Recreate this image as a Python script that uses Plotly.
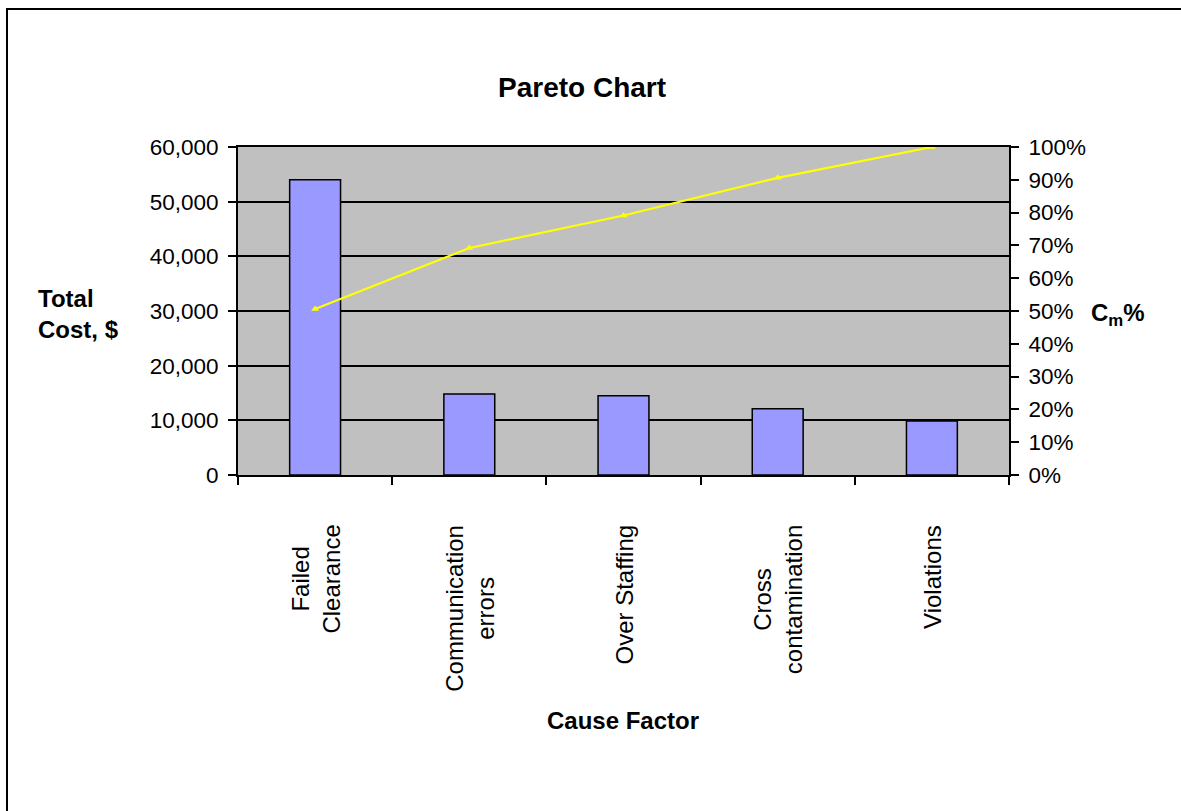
import plotly.graph_objects as go

categories = ["Failed<br>Clearance", "Communication<br>errors", "Over Staffing",
              "Cross<br>contamination", "Violations"]
total_cost = [54000, 14800, 14500, 12100, 9900]
cumulative_pct = [0.506, 0.692, 0.791, 0.906, 1.0]
left_ticks = [0, 10000, 20000, 30000, 40000, 50000, 60000]
right_ticks = [i / 10 for i in range(11)]

FONT = "Liberation Sans, Arial, sans-serif"

W, H = 1181, 811
L, R, T, B = 238, 1009, 147, 475
pw, ph = R - L, B - T


def px(x):
    return (x - L) / pw


def py(y):
    return (B - y) / ph


fig = go.Figure()
fig.add_trace(go.Bar(
    x=categories, y=total_cost, width=0.33,
    marker=dict(color="#9999FF", line=dict(color="black", width=1.5)),
    showlegend=False, yaxis="y",
))
fig.add_trace(go.Scatter(
    x=categories, y=cumulative_pct, mode="lines+markers",
    line=dict(color="#FFFF00", width=2.2),
    marker=dict(symbol="triangle-up", size=7, color="#FFFF00"),
    showlegend=False, yaxis="y2",
))

fig.update_layout(
    width=W, height=H,
    margin=dict(l=L, r=W - R, t=T, b=H - B, pad=0),
    paper_bgcolor="white", plot_bgcolor="#C0C0C0",
    font=dict(family=FONT, size=22, color="black"),
    xaxis=dict(
        type="category", tickson="boundaries", showticklabels=False,
        ticks="outside", ticklen=8, tickwidth=1.5, tickcolor="black",
        showline=True, linecolor="black", linewidth=2, mirror=True,
        showgrid=False,
    ),
    yaxis=dict(
        range=[0, 60000], tickvals=left_ticks, tickformat=",",
        ticks="outside", ticklen=8, tickwidth=1.5, tickcolor="black",
        showline=True, linecolor="black", linewidth=2,
        showgrid=True, gridcolor="black", gridwidth=1.5, zeroline=False,
        tickfont=dict(family=FONT, size=22.5), ticklabelstandoff=5,
    ),
    yaxis2=dict(
        range=[0, 1], tickvals=right_ticks, tickformat=".0%",
        overlaying="y", side="right",
        ticks="outside", ticklen=8, tickwidth=1.5, tickcolor="black",
        showline=True, linecolor="black", linewidth=2,
        showgrid=False, zeroline=False,
        tickfont=dict(family=FONT, size=22.5), ticklabelstandoff=5,
    ),
    bargap=0.67,
)

# category labels (centered lines, rotated), placed on the category axis scale
for cat in categories:
    fig.add_annotation(text=cat, xref="x", yref="paper", x=cat, y=py(523),
                       xanchor="center", yanchor="top", textangle=-90,
                       align="center", showarrow=False,
                       font=dict(family=FONT, size=24))

fig.add_shape(type="rect", xref="paper", yref="paper",
              x0=px(7), x1=px(1200), y0=py(840), y1=py(9),
              line=dict(color="black", width=2), layer="above")

fig.add_annotation(text="<b>Pareto Chart</b>", xref="paper", yref="paper",
                   x=px(582), y=py(87), xanchor="center", yanchor="middle",
                   showarrow=False, font=dict(family=FONT, size=28))
fig.add_annotation(text="<b>Total<br>Cost, $</b>", xref="paper", yref="paper",
                   x=px(36), y=py(314), xanchor="left", yanchor="middle",
                   align="left", showarrow=False,
                   font=dict(family=FONT, size=24))
fig.add_annotation(text="<b>C<sub>m</sub>%</b>", xref="paper", yref="paper",
                   x=px(1089), y=py(314), xanchor="left", yanchor="middle",
                   showarrow=False, font=dict(family=FONT, size=24))
fig.add_annotation(text="<b>Cause Factor</b>", xref="paper", yref="paper",
                   x=px(623), y=py(720), xanchor="center", yanchor="middle",
                   showarrow=False, font=dict(family=FONT, size=24))

fig.write_html("out.html", config={"displayModeBar": False},
               post_script="document.body.style.margin='0';document.body.style.overflow='hidden';")
